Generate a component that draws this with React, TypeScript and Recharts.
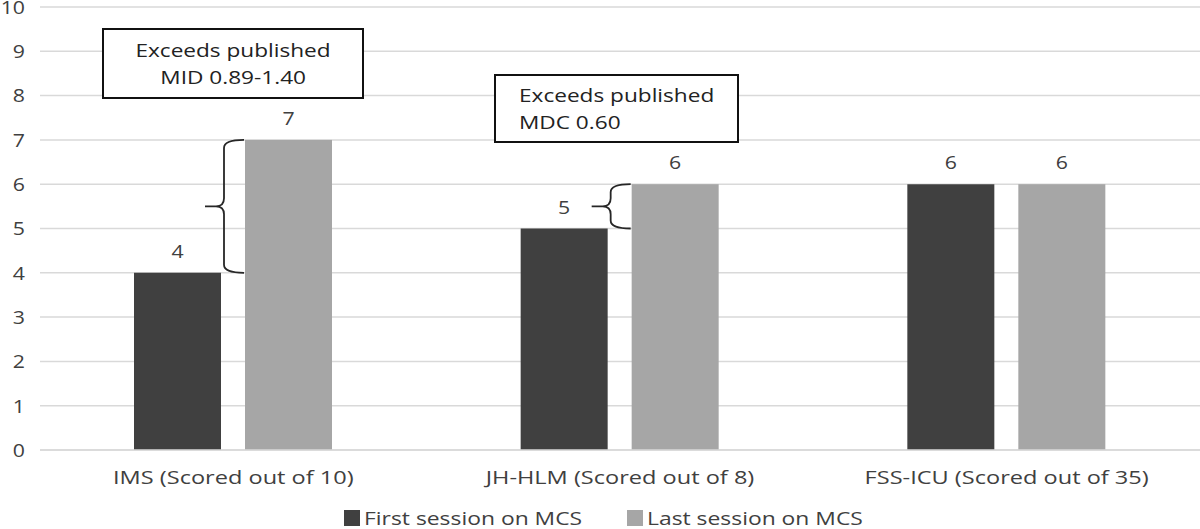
import { Bar, BarChart, CartesianGrid, LabelList, Legend, XAxis, YAxis } from "recharts";

// values
const categories = [
  "IMS (Scored out of 10)",
  "JH-HLM (Scored out of 8)",
  "FSS-ICU (Scored out of 35)",
];
const firstSession = [4, 5, 6];
const lastSession = [7, 6, 6];
const yTicks = [0, 1, 2, 3, 4, 5, 6, 7, 8, 9, 10];
const seriesNames = ["First session on MCS", "Last session on MCS"];
const seriesColors = ["#404040", "#a6a6a6"];

const data = categories.map((name, i) => ({
  name,
  first: firstSession[i],
  last: lastSession[i],
}));

const FONT = "'Open Sans', sans-serif";
const TEXT = "#404040";

// the source figure is horizontally stretched, so text gets a small scaleX
const WideText = ({ x, y, anchor, size, sx, dy, children }: any) => (
  <text
    transform={`translate(${x},${y}) scale(${sx},1)`}
    textAnchor={anchor}
    dy={dy}
    fontSize={size}
    fontFamily={FONT}
    fill={TEXT}
  >
    {children}
  </text>
);

const XTick = (props: any) => (
  <WideText x={props.x} y={props.y} anchor="middle" size={19} sx={1.24} dy="0.85em">
    {props.payload.value}
  </WideText>
);

const YTick = (props: any) => (
  <WideText x={props.x} y={props.y} anchor="end" size={19} sx={1.12} dy="0.36em">
    {props.payload.value}
  </WideText>
);

const TopLabel = (props: any) => (
  <WideText x={props.x + props.width / 2} y={props.y - 15} anchor="middle" size={19} sx={1.12}>
    {props.value}
  </WideText>
);

// light bar + curly brace showing the gap back to the first-session value
const BraceBar = (props: any) => {
  const { x, y, width, height, fill, payload } = props;
  const rect = <rect x={x} y={y} width={width} height={height} fill={fill} />;
  if (!payload || !(payload.last > payload.first)) return rect;
  const yTop = y;
  const yBot = y + height * (1 - payload.first / payload.last);
  const right = x - 1;
  const spine = x - 21;
  const tip = x - 40;
  const mid = (yTop + yBot) / 2;
  const r = Math.min(8, (yBot - yTop) / 4);
  const d =
    `M${right},${yTop} Q${spine},${yTop} ${spine},${yTop + r} L${spine},${mid - r} ` +
    `Q${spine},${mid} ${spine - r},${mid} L${tip},${mid} ` +
    `M${spine - r},${mid} Q${spine},${mid} ${spine},${mid + r} L${spine},${yBot - r} ` +
    `Q${spine},${yBot} ${right},${yBot}`;
  return (
    <g>
      {rect}
      <path d={d} fill="none" stroke="#262626" strokeWidth={1.8} />
    </g>
  );
};

const legendTextW = [219, 209];

const renderLegend = () => (
  <div
    style={{
      display: "flex",
      justifyContent: "center",
      gap: 44,
      paddingTop: 8,
      fontFamily: FONT,
      fontSize: 18,
      color: TEXT,
      lineHeight: "20px",
    }}
  >
    {seriesNames.map((n, i) => (
      <div key={n} style={{ display: "flex", alignItems: "center", gap: 4 }}>
        <span style={{ width: 16, height: 16, background: seriesColors[i], display: "inline-block" }} />
        <span style={{ display: "inline-block", width: legendTextW[i], whiteSpace: "nowrap" }}>
          <span style={{ display: "inline-block", transform: "scaleX(1.27)", transformOrigin: "left" }}>{n}</span>
        </span>
      </div>
    ))}
  </div>
);

const boxStyle = {
  position: "absolute" as const,
  border: "2px solid #111",
  background: "#fff",
  fontFamily: FONT,
  fontSize: 19,
  color: "#222",
  lineHeight: "27px",
  boxSizing: "border-box" as const,
};

const BoxLine = ({ children, origin }: any) => (
  <div>
    <span style={{ display: "inline-block", transform: "scaleX(1.19)", transformOrigin: origin }}>{children}</span>
  </div>
);

export default function App() {
  return (
    <div style={{ position: "relative", width: 1200, height: 529, fontFamily: FONT }}>
      <style>{"body{margin:0}"}</style>
      <BarChart
        width={1200}
        height={529}
        data={data}
        margin={{ top: 7, right: 0, left: 0, bottom: 0 }}
        barSize={87}
        barGap={24}
      >
        <CartesianGrid vertical={false} stroke="#d9d9d9" strokeWidth={1.5} />
        <XAxis
          dataKey="name"
          height={50}
          tickLine={false}
          axisLine={{ stroke: "#d9d9d9", strokeWidth: 1.5 }}
          tickMargin={12}
          tick={XTick}
        />
        <YAxis
          width={40}
          domain={[0, 10]}
          ticks={yTicks}
          interval={0}
          axisLine={false}
          tickLine={false}
          tickMargin={9}
          tick={YTick}
        />
        <Legend verticalAlign="bottom" height={29} content={renderLegend} />
        <Bar dataKey="first" name={seriesNames[0]} fill={seriesColors[0]} isAnimationActive={false}>
          <LabelList dataKey="first" content={TopLabel} />
        </Bar>
        <Bar
          dataKey="last"
          name={seriesNames[1]}
          fill={seriesColors[1]}
          shape={BraceBar}
          isAnimationActive={false}
        >
          <LabelList dataKey="last" content={TopLabel} />
        </Bar>
      </BarChart>

      <div style={{ ...boxStyle, left: 102, top: 28, width: 262, height: 71, textAlign: "center", paddingTop: 7 }}>
        <BoxLine origin="center">Exceeds published</BoxLine>
        <BoxLine origin="center">MID 0.89-1.40</BoxLine>
      </div>
      <div style={{ ...boxStyle, left: 494, top: 74, width: 245, height: 69, paddingLeft: 23, paddingTop: 6 }}>
        <BoxLine origin="left">Exceeds published</BoxLine>
        <BoxLine origin="left">MDC 0.60</BoxLine>
      </div>
    </div>
  );
}
